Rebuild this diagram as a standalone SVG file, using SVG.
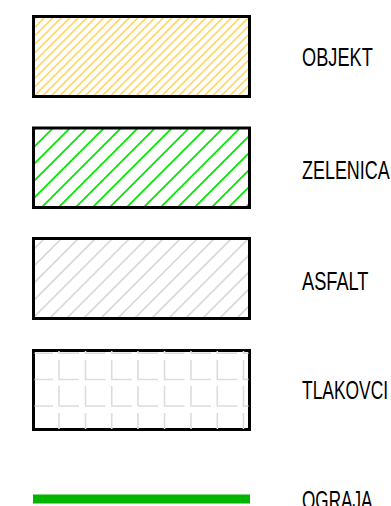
<svg xmlns="http://www.w3.org/2000/svg" xmlns:xlink="http://www.w3.org/1999/xlink" width="391" height="506" viewBox="0 0 391 506">
<style>
.box{fill:none;stroke:#000;stroke-width:3;stroke-linejoin:miter}
.t{font-family:"Liberation Sans",Arial,sans-serif;font-size:26px;fill:#000}
.tile{fill:none;stroke:#dcdcdc;stroke-width:1.6}
.h{fill:none;stroke-width:1.7}
</style>
<defs>
<clipPath id="cO"><rect x="34" y="17" width="215" height="79"/></clipPath>
<clipPath id="cG"><rect x="34" y="128" width="215" height="79"/></clipPath>
<clipPath id="cA"><rect x="34" y="239" width="215" height="79"/></clipPath>
<path id="wide" d="M-46 210l85-85M-29 210l85-85M-12 210l85-85M5 210l85-85M22 210l85-85M39 210l85-85M56 210l85-85M73 210l85-85M90 210l85-85M107 210l85-85M124 210l85-85M141 210l85-85M158 210l85-85M175 210l85-85M192 210l85-85M209 210l85-85M226 210l85-85M243 210l85-85M260 210l85-85"/>
</defs>
<g id="connectors"/>
<g id="objekt"><path class="h" clip-path="url(#cO)" stroke="#ffd668" d="M-46.400 100l90-90M-37.900 100l90-90M-29.400 100l90-90M-20.900 100l90-90M-12.400 100l90-90M-3.900 100l90-90M4.600 100l90-90M13.100 100l90-90M21.600 100l90-90M30.100 100l90-90M38.600 100l90-90M47.100 100l90-90M55.600 100l90-90M64.100 100l90-90M72.600 100l90-90M81.100 100l90-90M89.600 100l90-90M98.100 100l90-90M106.600 100l90-90M115.100 100l90-90M123.600 100l90-90M132.100 100l90-90M140.600 100l90-90M149.100 100l90-90M157.600 100l90-90M166.100 100l90-90M174.600 100l90-90M183.100 100l90-90M191.600 100l90-90M200.100 100l90-90M208.600 100l90-90M217.100 100l90-90M225.600 100l90-90M234.100 100l90-90M242.600 100l90-90M251.100 100l90-90"/><rect class="box" x="33.500" y="16.500" width="216" height="80"/><text class="t" transform="translate(302 66) scale(.7 1)">OBJEKT</text></g>
<g id="zelenica"><g clip-path="url(#cG)"><use xlink:href="#wide" href="#wide" class="h" stroke="#00e600"/></g><rect class="box" x="33.500" y="128" width="216" height="79.500"/><text class="t" transform="translate(302 179) scale(.69 1)">ZELENICA</text></g>
<g id="asfalt"><g clip-path="url(#cA)"><use xlink:href="#wide" href="#wide" class="h" stroke="#d9d9d9" transform="translate(-8 110)"/></g><rect class="box" x="33.500" y="238.500" width="216" height="80"/><text class="t" transform="translate(302 290) scale(.7 1)">ASFALT</text></g>
<g id="tlakovci"><rect class="box" x="33.500" y="350.500" width="216" height="79"/>
<path class="tile" d="M34.500 353.300H53M34.500 379.500H53M34.500 406H53M59 351V353.300H79M59 360V379.500H79M59 386V406H79M59 413V429M85.500 351V353.300H105.500M85.500 360V379.500H105.500M85.500 386V406H105.500M85.500 413V429M111.700 351V353.300H131.700M111.700 360V379.500H131.700M111.700 386V406H131.700M111.700 413V429M138 351V353.300H158M138 360V379.500H158M138 386V406H158M138 413V429M164.500 351V353.300H184.500M164.500 360V379.500H184.500M164.500 386V406H184.500M164.500 413V429M191 351V353.300H211M191 360V379.500H211M191 386V406H211M191 413V429M217.300 351V353.300H237.300M217.300 360V379.500H237.300M217.300 386V406H237.300M217.300 413V429M243.500 351V353.300H248.500M243.500 360V379.500H248.500M243.500 386V406H248.500M243.500 413V429"/>
<text class="t" transform="translate(302 399) scale(.67 1)">TLAKOVCI</text></g>
<g id="ograja"><rect x="33" y="494.500" width="217" height="9" fill="#00b400"/><text class="t" transform="translate(302 509) scale(.66 1)">OGRAJA</text></g>
</svg>
